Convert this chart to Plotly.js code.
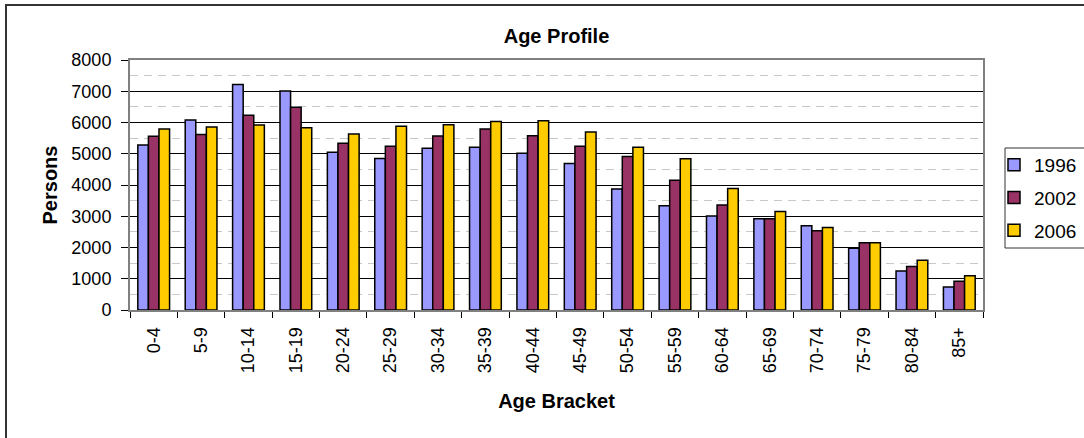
<!DOCTYPE html>
<html>
<head>
<meta charset="utf-8">
<script src="https://cdn.plot.ly/plotly-3.0.1.min.js"></script>
<style>
  html, body { margin: 0; padding: 0; background: #fff; overflow: hidden; }
  #wrap { position: relative; width: 1084px; height: 438px; overflow: hidden; }
  #chart { position: absolute; left: 0; top: 0; width: 1084px; height: 438px; }
  #frame { position: absolute; left: 5px; top: 4px; width: 1200px; height: 600px;
           border: 2px solid #333; pointer-events: none; }
</style>
</head>
<body>
<div id="wrap">
  <div id="chart"></div>
  <div id="frame"></div>
</div>
<script>
const categories = ["0-4","5-9","10-14","15-19","20-24","25-29","30-34","35-39","40-44",
                    "45-49","50-54","55-59","60-64","65-69","70-74","75-79","80-84","85+"];
const seriesNames = ["1996", "2002", "2006"];
const values1996 = [5280, 6080, 7220, 7010, 5050, 4850, 5180, 5210, 5020, 4690, 3870, 3340, 3010, 2920, 2700, 1980, 1250, 740];
const values2002 = [5560, 5620, 6230, 6490, 5340, 5240, 5570, 5790, 5580, 5240, 4910, 4150, 3360, 2920, 2540, 2150, 1390, 920];
const values2006 = [5790, 5860, 5920, 5830, 5630, 5880, 5930, 6030, 6060, 5700, 5210, 4840, 3890, 3150, 2640, 2150, 1590, 1100];
const yTickValues = [0, 1000, 2000, 3000, 4000, 5000, 6000, 7000, 8000];

const colors = ["#9999FF", "#993366", "#FFCC00"];
const allValues = [values1996, values2002, values2006];
const FONT = "Liberation Sans, Arial, sans-serif";

const traces = allValues.map((vals, i) => ({
  type: "bar",
  name: seriesNames[i],
  x: categories,
  y: vals,
  legendgroup: "g" + i,
  marker: { color: colors[i], line: { color: "#000", width: 1.5 } },
  hoverinfo: "x+y+name"
}));

const layout = {
  width: 1084, height: 438,
  margin: { l: 130, r: 101, t: 60, b: 128, pad: 0 },
  paper_bgcolor: "rgba(0,0,0,0)",
  plot_bgcolor: "#fff",
  font: { family: FONT, size: 18, color: "#000" },
  barmode: "group",
  bargap: 0.33,
  bargroupgap: 0,
  title: {
    text: "Age Profile",
    font: { family: FONT, size: 20, weight: "bold", color: "#000" },
    x: 0.5, xref: "paper", xanchor: "center",
    y: 1 - 36 / 438, yref: "container", yanchor: "middle"
  },
  xaxis: {
    type: "category",
    tickangle: -90,
    ticks: "outside", tickson: "boundaries", ticklen: 6, tickcolor: "#000", tickwidth: 1,
    ticklabelstandoff: 8,
    tickfont: { family: FONT, size: 18, color: "#000" },
    showline: true, linecolor: "#808080", linewidth: 2, mirror: true,
    showgrid: false,
    title: { text: "Age Bracket", font: { family: FONT, size: 20, weight: "bold" }, standoff: 22 }
  },
  yaxis: {
    range: [0, 8000], autorange: false,
    tickvals: yTickValues,
    ticks: "outside", ticklen: 7, tickcolor: "#000", tickwidth: 1,
    ticklabelstandoff: 6,
    tickfont: { family: FONT, size: 18, color: "#000" },
    showline: true, linecolor: "#808080", linewidth: 2, mirror: true,
    showgrid: true, gridcolor: "#000", gridwidth: 1,
    zeroline: false,
    minor: { dtick: 500, showgrid: true, gridcolor: "#c8c8c8", gridwidth: 1, griddash: "8px,6px", ticks: "" },
    title: { text: "Persons", font: { family: FONT, size: 20, weight: "bold" }, standoff: 8 }
  },
  showlegend: true,
  legend: {
    xref: "container", yref: "container",
    x: 994 / 1084, xanchor: "left",
    y: 1 - 146 / 438, yanchor: "top",
    font: { family: FONT, size: 19, color: "#000" },
    bgcolor: "rgba(0,0,0,0)", borderwidth: 0,
    traceorder: "grouped", tracegroupgap: 5
  },
  shapes: [{
    type: "rect", xref: "paper", yref: "paper",
    x0: (1005 - 130) / 853, x1: (1120 - 130) / 853,
    y0: (310 - 248) / 250, y1: (310 - 148) / 250,
    line: { color: "#333", width: 1 }, fillcolor: "rgba(0,0,0,0)", layer: "below"
  }]
};

Plotly.newPlot("chart", traces, layout, { displayModeBar: false, staticPlot: true });
</script>
</body>
</html>
